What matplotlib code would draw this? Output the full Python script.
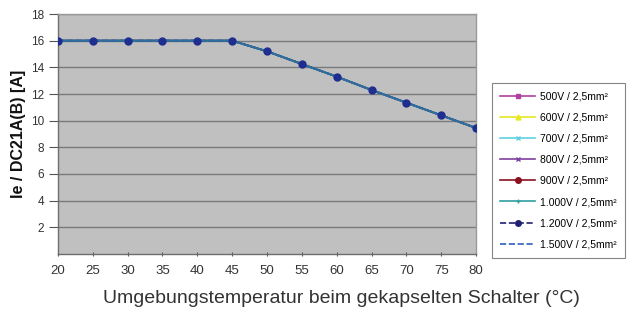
import matplotlib
matplotlib.use("Agg")
import matplotlib.pyplot as plt

plt.rcParams['font.family'] = ['Liberation Sans', 'DejaVu Sans']

temps = [20, 25, 30, 35, 40, 45, 50, 55, 60, 65, 70, 75, 80]
current = [16, 16, 16, 16, 16, 16, 15.2, 14.25, 13.3, 12.3, 11.35, 10.4, 9.45]
series_labels = ["500V / 2,5mm²", "600V / 2,5mm²", "700V / 2,5mm²", "800V / 2,5mm²",
                 "900V / 2,5mm²", "1.000V / 2,5mm²", "1.200V / 2,5mm²", "1.500V / 2,5mm²"]
series_values = [current] * 8
yticks = [2, 4, 6, 8, 10, 12, 14, 16, 18]
xticks = [20, 25, 30, 35, 40, 45, 50, 55, 60, 65, 70, 75, 80]

styles = [
    dict(color='#B040A0', marker='s', ls='-', ms=3.5),
    dict(color='#E8E820', marker='^', ls='-', ms=3.5),
    dict(color='#60D0E0', marker='x', ls='-', ms=3.5),
    dict(color='#8040A0', marker='x', ls='-', ms=3.5),
    dict(color='#8B1020', marker='o', ls='-', ms=4),
    dict(color='#30A0A0', marker='+', ls='-', ms=3.5),
    dict(color='#202070', marker='o', ls='--', ms=4),
    dict(color='#3060C0', marker='', ls='--', ms=0),
]

fig = plt.figure(figsize=(6.31, 3.22), dpi=100)
ax = fig.add_axes([0.0919, 0.2112, 0.6625, 0.7453])
ax.set_facecolor('#C0C0C0')

handles = []
for vals, lab, st in zip(series_values, series_labels, styles):
    h, = ax.plot(temps, vals, color=st['color'], ls=st['ls'], marker=st['marker'],
                 ms=st['ms'], lw=1.2, label=lab, zorder=3)
    handles.append(h)
# top visible line as seen in reference
ax.plot(temps, current, color='#2E6E9E', lw=1.5, zorder=4)
ax.plot(temps, current, color='#1F2F8F', marker='o', ms=5, ls='none', zorder=5)

ax.set_xlim(20, 80)
ax.set_ylim(0, 18)
ax.set_xticks(xticks)
ax.set_yticks(yticks)
ax.grid(axis='y', color='#7A7A7A', lw=1.0, zorder=1)
ax.set_axisbelow(True)
for s in ['left', 'bottom']:
    ax.spines[s].set_color('#6E6E6E')
    ax.spines[s].set_linewidth(1.0)
for s in ['top', 'right']:
    ax.spines[s].set_color('#9A9A9A')
    ax.spines[s].set_linewidth(1.0)
ax.tick_params(axis='y', labelsize=8.5, colors='#555555', length=6.5, width=0.8,
               direction='out', pad=3.6, labelcolor='#333333')
ax.tick_params(axis='x', labelsize=9.5, colors='#555555', length=3, width=0.8,
               direction='inout', pad=6.5, labelcolor='#333333')
ax.set_ylabel("Ie / DC21A(B) [A]", fontsize=11.5, fontweight='bold',
              color='#111111')
ax.yaxis.set_label_coords(-0.077, 0.5)

fig.text(0.541, 0.074, "Umgebungstemperatur beim gekapselten Schalter (°C)",
         ha='center', va='center', fontsize=14, color='#333333')

leg = fig.legend(handles=handles, loc='upper left', bbox_to_anchor=(0.7797, 0.7422),
                 borderaxespad=0.0,
                 fontsize=7.5, frameon=True, fancybox=False, edgecolor='#666666',
                 handlelength=3.3, labelspacing=1.07, borderpad=0.8, handletextpad=0.5)
leg.get_frame().set_linewidth(0.8)

fig.savefig("out.png", dpi=100, facecolor='white')
